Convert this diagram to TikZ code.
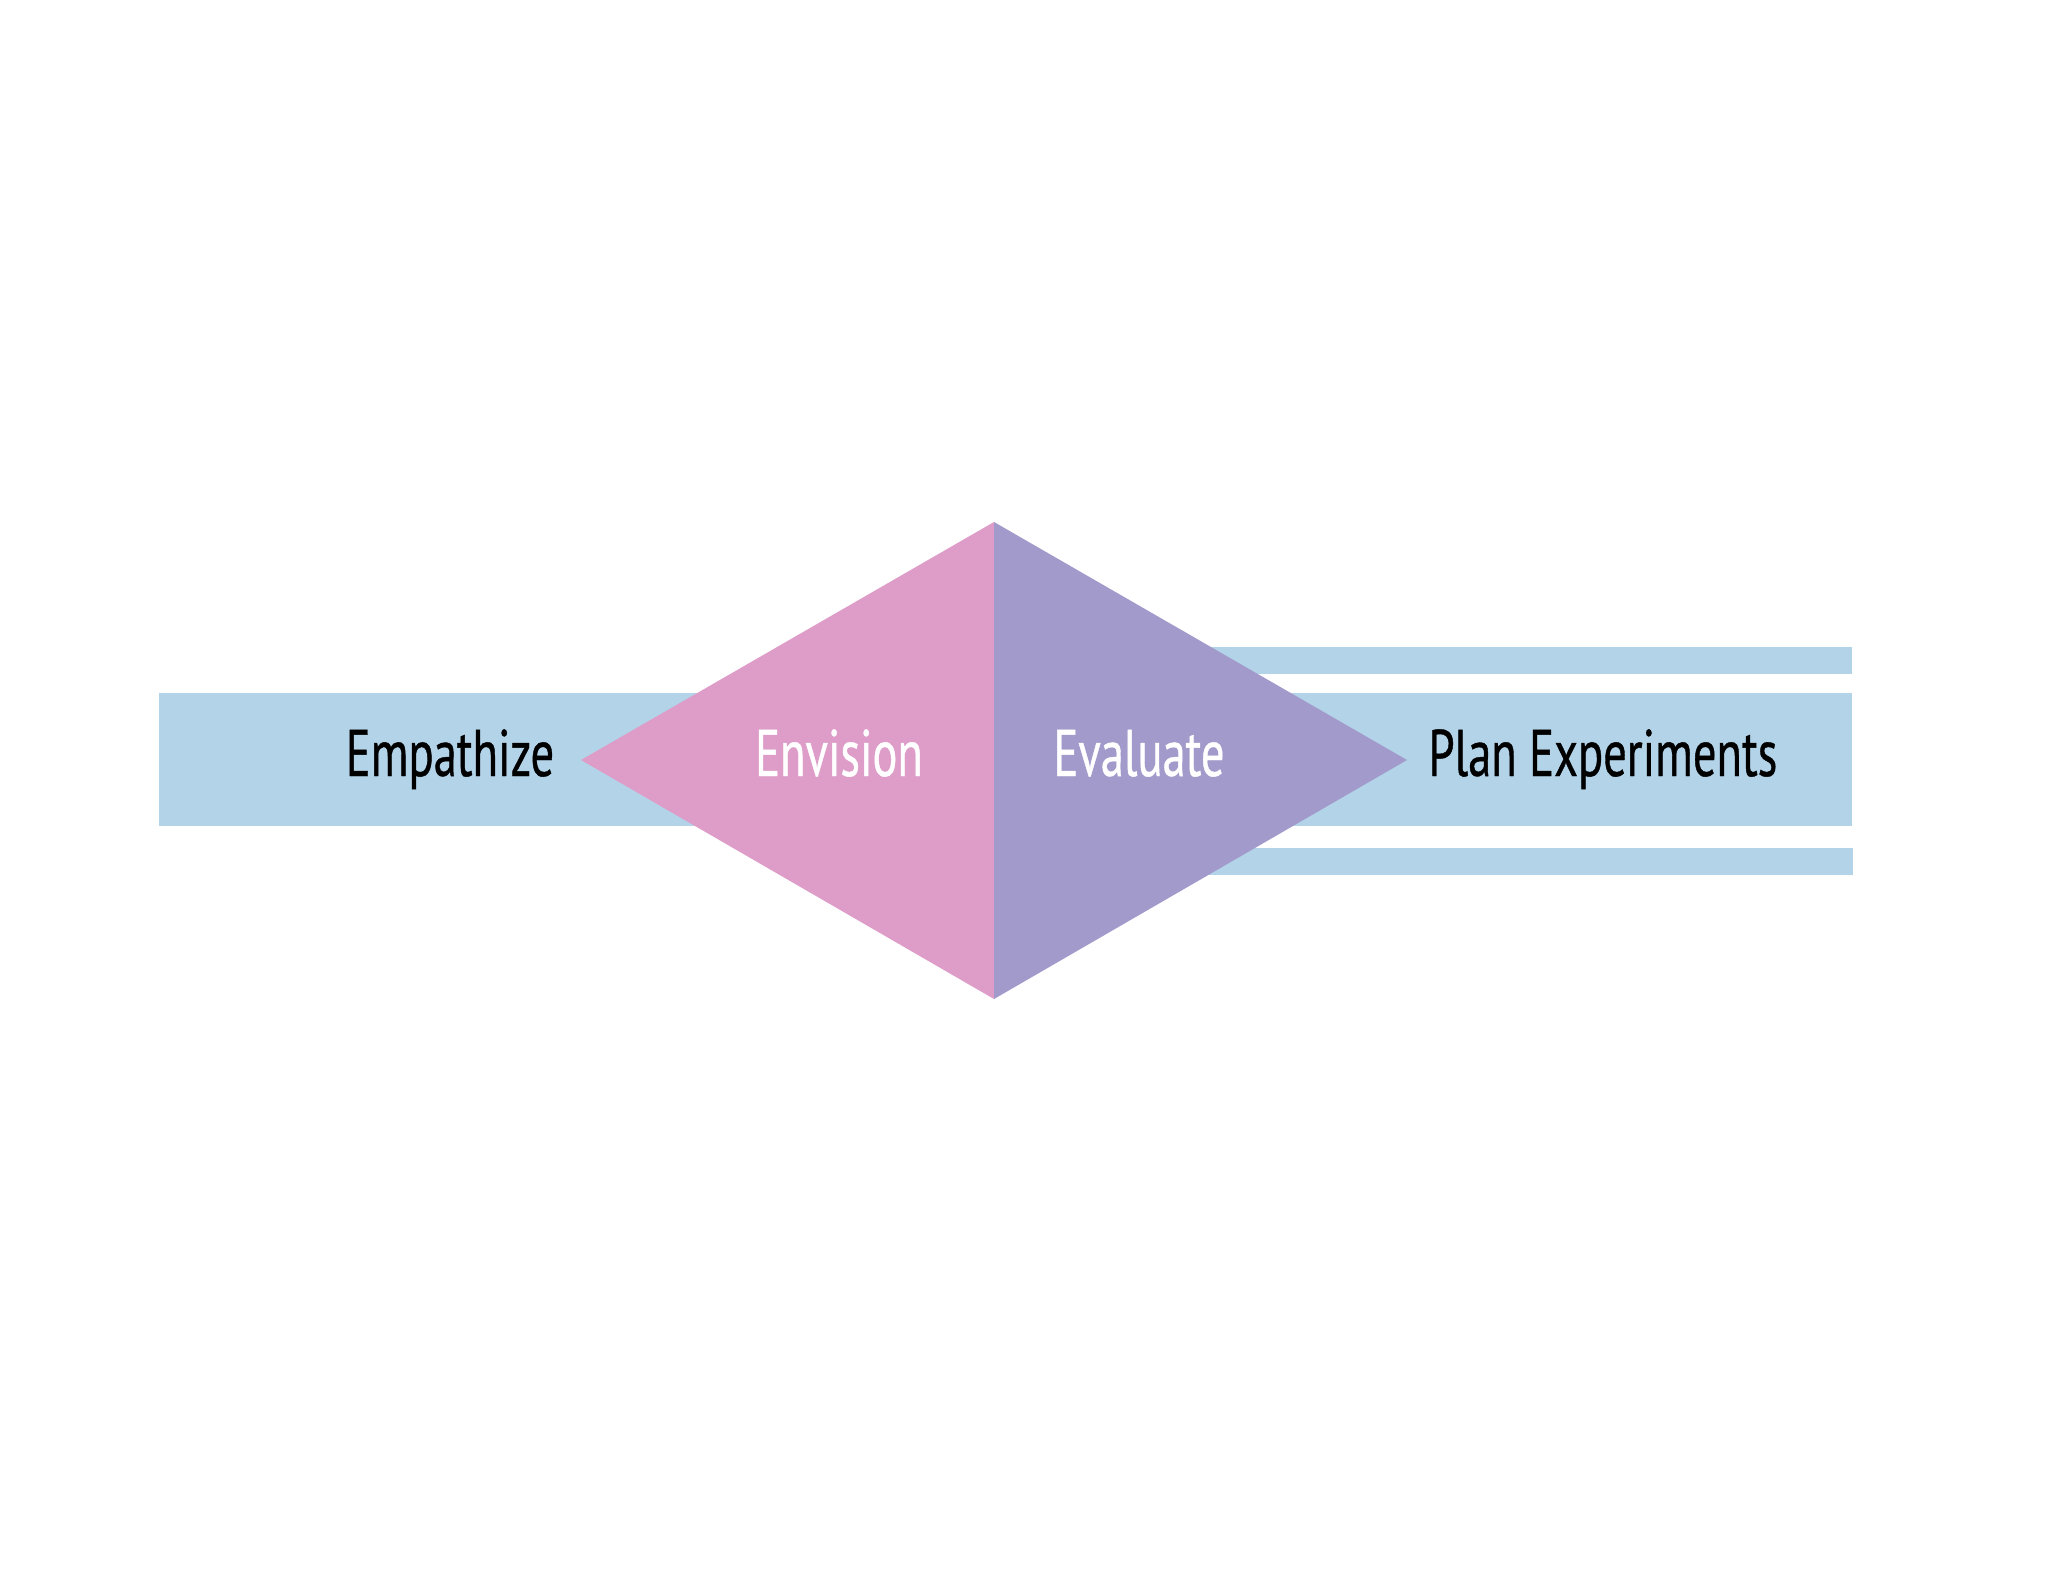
\documentclass[tikz,border=0pt]{standalone}
\usepackage{fontspec}
\setmainfont{PT Sans}[FakeStretch=0.705, FakeBold=0.6]
\definecolor{bandblue}{RGB}{179,211,232}
\definecolor{pinkish}{RGB}{221,157,200}
\definecolor{purplish}{RGB}{162,154,203}
\tikzset{
  band/.style={fill=bandblue, draw=none},
  label/.style={anchor=base, inner sep=0pt, font=\fontsize{33}{40}\selectfont},
}
\begin{document}
\begin{tikzpicture}[x=0.5pt, y=-0.5pt]
\useasboundingbox[fill=white] (0,0) rectangle (2048,1582);
% bands
\fill[band] (159,693) rectangle (1852,826);
\fill[band] (1150,647) rectangle (1852,674);
\fill[band] (1150,848) rectangle (1853,875);
% diamond
\fill[pinkish] (581,760) -- (994,522) -- (994,999) -- cycle;
\fill[purplish] (994,522) -- (1407,760) -- (994,999) -- cycle;
% labels
\node[label, text=black] (emp) at (450,776) {Empathize};
\node[label, text=white] (env) at (839,776) {Envision};
\node[label, text=white] (eva) at (1139,776) {Evaluate};
\node[label, text=black] (plan) at (1603,776) {Plan Experiments};
\end{tikzpicture}
\end{document}
